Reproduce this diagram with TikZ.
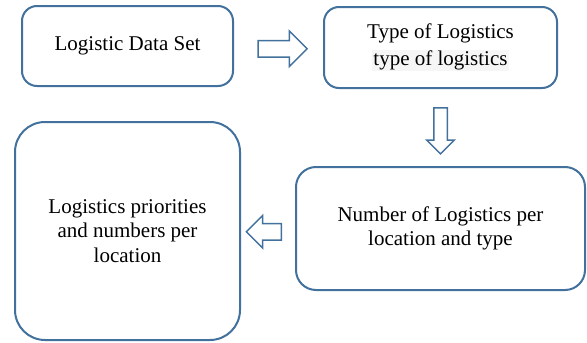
\documentclass[tikz,border=0pt]{standalone}
\usepackage{fontspec}
\setmainfont{Liberation Serif}
\usetikzlibrary{shapes.arrows,calc}
\definecolor{boxblue}{RGB}{65,113,156}
\definecolor{marklight}{RGB}{246,246,246}
\setlength{\fboxsep}{1pt}

\begin{document}
\begin{tikzpicture}[x=1pt,y=-1pt,
  stage/.style={draw=boxblue, line width=2pt, align=center, inner sep=0pt,
    font=\fontsize{21}{24.5}\selectfont},
  flowarrow/.style={single arrow, draw=boxblue, line width=1.5pt, inner xsep=0pt,
    minimum width=0pt, single arrow tip angle=90}]
\useasboundingbox (0,0) rectangle (587,343);

\node[stage, rounded corners=15pt, minimum width=211pt, minimum height=80pt] (dataset) at (127.5,46) {Logistic Data Set};
\node[stage, rounded corners=15pt, minimum width=233pt, minimum height=81pt] (logtype) at (440.5,47.5) {Type of Logistics\\[2pt]\colorbox{marklight}{type of logistics}};
\node[stage, rounded corners=20pt, minimum width=289pt, minimum height=123pt] (perloc) at (440.5,228.5) {Number of Logistics per\\location and type};
\node[stage, rounded corners=30pt, minimum width=225pt, minimum height=218pt] (priorities) at (127.5,231) {Logistics priorities\\and numbers per\\location};

\node[flowarrow, inner ysep=7.5pt, single arrow head extend=9.5pt, minimum height=49pt] (toType) at ($(dataset.east)!0.5!(logtype.west)+(0,2)$) {};
\node[flowarrow, rotate=-90, inner ysep=6pt, single arrow head extend=7pt, minimum height=46pt] (toCount) at ($(logtype.south)!0.5!(perloc.north)$) {};
\node[flowarrow, rotate=180, inner ysep=7.5pt, single arrow head extend=8pt, minimum height=35pt] (toPrio) at ($(perloc.west)!0.5!(priorities.east)+(0,2)$) {};
\end{tikzpicture}
\end{document}
